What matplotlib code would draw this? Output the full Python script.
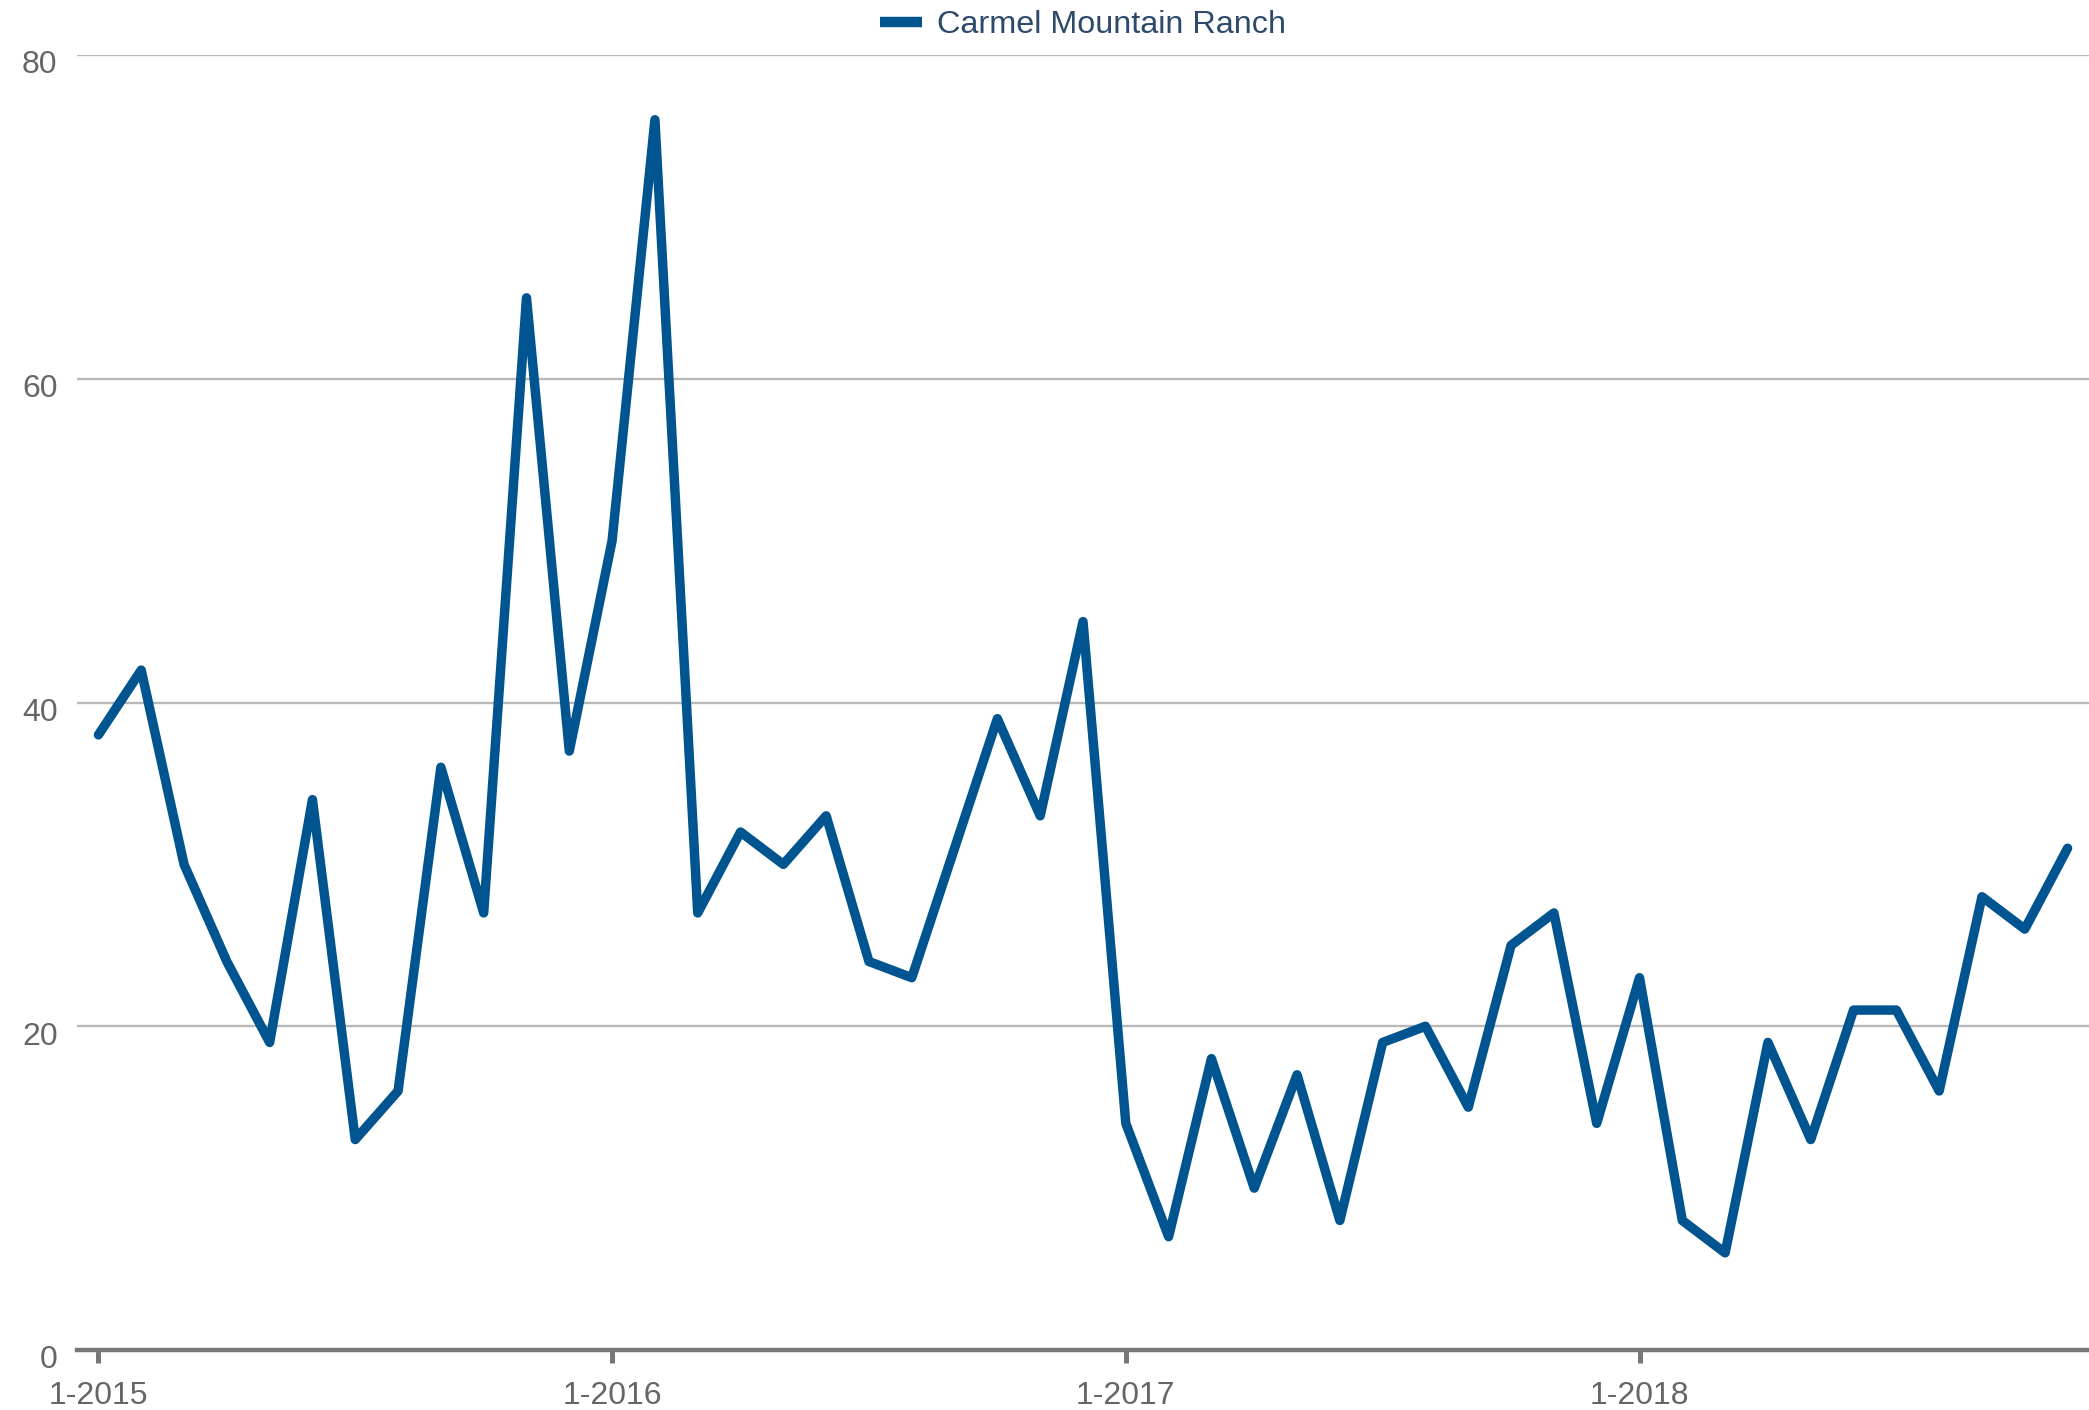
import matplotlib
matplotlib.use("Agg")
import matplotlib.pyplot as plt
from matplotlib.transforms import ScaledTranslation

# --- Data: monthly values, Jan 2015 .. Nov 2018 ---
SERIES_NAME = "Carmel Mountain Ranch"
VALUES = [
    38, 42, 30, 24, 19, 34, 13, 16, 36, 27, 65, 37,   # 2015
    50, 76, 27, 32, 30, 33, 24, 23, 31, 39, 33, 45,   # 2016
    14, 7, 18, 10, 17, 8, 19, 20, 15, 25, 27, 14,     # 2017
    23, 8, 6, 19, 13, 21, 21, 16, 28, 26, 31,         # 2018
]
X_TICK_POS = [0, 12, 24, 36]
X_TICK_LABELS = ["1-2015", "1-2016", "1-2017", "1-2018"]
Y_TICKS = [0, 20, 40, 60, 80]

LINE_COLOR = "#00548f"
GRID_COLOR = "#b8b8b8"
AXIS_COLOR = "#777777"
TICK_TEXT = "#666666"
LEGEND_TEXT = "#2e4a6b"

plt.rcParams["font.family"] = ["Liberation Sans", "DejaVu Sans"]

W, H, DPI = 2089, 1410, 100
fig = plt.figure(figsize=(W / DPI, H / DPI), dpi=DPI)
left, right, top, bottom = 77, 2089, 55, 1350
ax = fig.add_axes([left / W, 1 - bottom / H, (right - left) / W, (bottom - top) / H])

x = list(range(len(VALUES)))
ax.plot(x, VALUES, color=LINE_COLOR, lw=6.8, solid_capstyle="round",
        solid_joinstyle="round", label=SERIES_NAME, zorder=3)

ax.set_xlim(-0.5, 46.5)
ax.set_ylim(0, 80)
ax.set_yticks(Y_TICKS)
ax.set_xticks(X_TICK_POS)
ax.set_xticklabels(X_TICK_LABELS)

ax.grid(axis="y", color=GRID_COLOR, lw=1.7, zorder=0)
ax.set_axisbelow(True)
for side in ["top", "right", "left"]:
    ax.spines[side].set_visible(False)
ax.spines["bottom"].set_color(AXIS_COLOR)
ax.spines["bottom"].set_linewidth(3.2)
ax.spines["bottom"].set_zorder(4)

ax.tick_params(axis="y", length=0, pad=14, labelsize=23, labelcolor=TICK_TEXT)
ax.tick_params(axis="x", length=9, width=3.6, color=AXIS_COLOR, pad=13,
               labelsize=23, labelcolor=TICK_TEXT)
for lab in ax.get_yticklabels():
    lab.set_transform(lab.get_transform() + ScaledTranslation(0, -5 / 72, fig.dpi_scale_trans))

leg = fig.legend(loc="center", bbox_to_anchor=((left + right) / 2 / W, 1 - 25 / H),
                 frameon=False, fontsize=23.3, handlelength=1.3, handletextpad=0.45)
for h in leg.get_lines():
    h.set_linewidth(7.5)
    h.set_solid_capstyle("butt")
for t in leg.get_texts():
    t.set_color(LEGEND_TEXT)

fig.savefig("out.png", dpi=DPI)
